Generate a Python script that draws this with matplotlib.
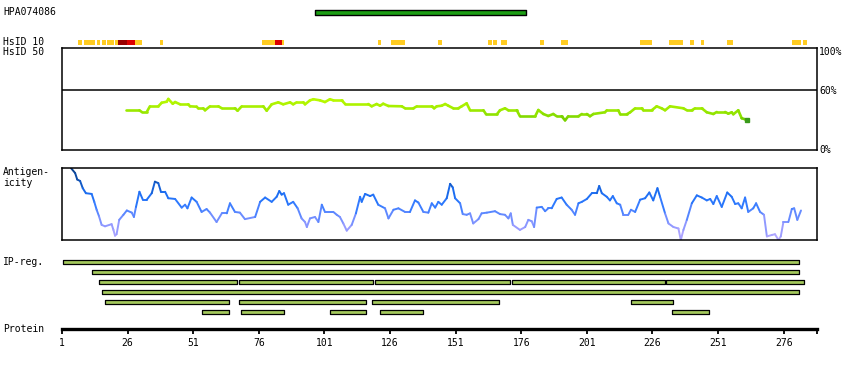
import numpy as np
import matplotlib
matplotlib.use("Agg")
import matplotlib.pyplot as plt
from matplotlib.collections import LineCollection
from matplotlib.colors import LinearSegmentedColormap, Normalize

# ---- data (residue positions) ----
protein_length = 288.7
tick_residues = list(range(1, 277, 25))

antibody_name = "HPA074086"
antibody_start, antibody_end = 97.5, 177.7

# HsID 10 blocks: start, end, level (0 = low, 1 = mid, 2 = high)
hsid10_start = [7.1, 9.4, 14.3, 16.2, 18.1, 21.2, 22.3, 25.8, 28.8, 38.3, 77.2, 82.2, 84.8,
                121.4, 126.4, 144.3, 163.3, 165.3, 168.3, 183.2, 191.2, 221.3, 232.3, 240.3,
                244.5, 254.4, 279.2, 283.4]
hsid10_end = [8.5, 13.6, 15.4, 17.7, 20.9, 22.3, 25.8, 28.8, 31.5, 39.5, 82.2, 84.8, 85.5,
              122.6, 131.7, 145.8, 164.9, 166.8, 170.6, 184.7, 193.8, 225.8, 237.7, 241.9,
              245.7, 256.7, 282.6, 284.9]
hsid10_level = [0, 0, 0, 0, 0, 0, 2, 1, 0, 0, 0, 1, 0,
                0, 0, 0, 0, 0, 0, 0, 0, 0, 0, 0,
                0, 0, 0, 0]

# HsID 50 identity (%) along the sequence
hsid50_res = [25.4, 30.5, 31.4, 33.3, 34.5, 37.7, 39.0, 40.9, 41.5, 43.2, 44.1, 46.0, 49.1, 49.8,
              52.3, 52.9, 54.8, 55.5, 57.4, 60.6, 61.9, 66.9, 67.9, 69.5, 77.7, 79.0, 80.9, 83.4,
              85.3, 87.9, 89.1, 90.4, 93.0, 93.6, 95.5, 96.8, 99.3, 101.2, 103.1, 104.4, 107.6,
              108.9, 117.7, 119.0, 120.9, 122.2, 123.4, 125.4, 130.5, 131.7, 134.9, 136.2, 141.9,
              142.8, 143.8, 145.7, 147.0, 148.2, 150.1, 152.0, 153.3, 155.2, 156.5, 161.6, 162.6,
              166.7, 167.9, 169.8, 171.1, 174.3, 175.5, 181.3, 182.5, 184.4, 186.3, 188.2, 189.5,
              191.4, 192.7, 193.9, 197.8, 199.1, 201.0, 202.2, 203.5, 207.9, 208.6, 213.0, 213.7,
              216.2, 217.5, 219.4, 221.9, 222.5, 225.7, 227.6, 229.5, 230.8, 232.7, 237.8, 239.1,
              241.0, 242.2, 244.8, 246.7, 249.2, 250.5, 253.7, 254.9, 256.2, 256.8, 258.7, 260.0,
              261.3, 262.2]
hsid50_pct = [39.9, 39.9, 38.2, 38.2, 43.9, 43.9, 47.5, 48.5, 51.3, 46.5, 48.2, 45.9, 45.9, 43.9,
              43.5, 41.9, 41.9, 39.9, 43.9, 43.9, 41.9, 41.9, 39.5, 43.9, 43.9, 39.5, 45.9, 47.9,
              45.9, 47.9, 45.9, 47.9, 47.9, 45.9, 49.9, 51.0, 49.9, 48.2, 51.0, 49.9, 49.9,
              46.2, 46.2, 43.9, 46.2, 44.5, 46.5, 44.2, 43.9, 41.9, 41.9, 43.9, 43.9,
              41.9, 43.9, 44.5, 46.2, 44.5, 41.9, 41.9, 43.9, 46.9, 39.9, 39.9, 35.9,
              35.9, 39.9, 41.9, 39.9, 39.9, 33.9, 33.9, 40.2, 36.2, 34.2, 36.2, 33.9,
              33.9, 29.8, 33.9, 33.9, 36.2, 36.2, 33.9, 36.2, 37.9, 39.9, 39.9, 35.9,
              35.9, 37.9, 41.9, 41.9, 39.9, 39.9, 43.9, 41.9, 39.9, 43.9, 41.9, 39.9,
              39.9, 41.9, 41.9, 37.9, 36.2, 38.2, 38.2, 36.5, 37.9, 35.9, 39.9, 31.9,
              30.9, 29.8]

# Antigenicity score (relative, 0 = bottom of panel, 1 = top)
antigen_res = [4.4, 6.0, 6.8, 7.9, 8.9, 10.1, 12.3, 13.3, 14.2, 15.1, 16.1, 17.4, 19.9, 20.6, 21.2,
               21.8, 22.8, 24.4, 25.7, 27.6, 28.4, 29.2, 30.5, 31.8, 33.3, 35.2, 36.4, 37.7, 38.7,
               40.3, 41.5, 44.1, 46.6, 47.9, 48.8, 50.4, 52.3, 54.2, 56.1, 57.4, 59.9, 61.9, 63.8,
               65.0, 66.9, 68.8, 70.7, 74.6, 76.5, 78.4, 80.9, 82.8, 83.8, 84.7, 85.6, 87.2, 89.1,
               90.8, 92.3, 93.6, 94.3, 95.5, 97.4, 98.7, 100.0, 101.2, 104.4, 105.7, 106.9, 108.2,
               109.5, 111.4, 113.0, 114.6, 115.2, 116.5, 118.4, 119.6, 121.5, 124.1, 125.4, 127.3,
               129.2, 131.7, 133.6, 135.5, 136.8, 138.7, 140.6, 141.9, 143.2, 144.4, 145.7, 147.6,
               148.9, 149.9, 150.8, 152.7, 153.7, 155.2, 156.5, 157.7, 159.7, 160.9, 162.9, 166.0,
               167.9, 169.8, 171.1, 172.0, 172.8, 175.5, 177.5, 178.7, 180.0, 180.9, 181.9, 183.8,
               185.1, 186.3, 187.6, 189.5, 191.4, 193.3, 195.2, 196.5, 197.8, 199.1, 201.0, 202.9,
               204.8, 205.7, 206.7, 208.6, 209.8, 210.9, 212.4, 213.7, 214.9, 216.8, 217.8, 219.4,
               221.3, 223.2, 224.8, 226.3, 227.9, 228.9, 230.8, 232.1, 234.0, 235.9, 236.8, 237.8,
               239.1, 241.0, 242.9, 244.8, 246.7, 248.0, 249.2, 250.5, 252.4, 254.5, 256.2, 257.5,
               258.7, 260.0, 261.3, 262.5, 264.4, 265.5, 267.0, 268.5, 269.6, 271.5, 272.7, 274.0,
               274.9, 275.9, 277.8, 279.1, 280.0, 281.2, 282.6]
antigen_val = [1.0, 0.93, 0.84, 0.82, 0.72, 0.65, 0.64, 0.53, 0.42, 0.33, 0.21, 0.19, 0.22, 0.14, 0.06,
               0.08, 0.28, 0.35, 0.41, 0.38, 0.32, 0.46, 0.67, 0.56, 0.56, 0.65, 0.81, 0.79, 0.67,
               0.67, 0.58, 0.57, 0.45, 0.49, 0.44, 0.59, 0.53, 0.39, 0.43, 0.38, 0.25, 0.37, 0.37,
               0.51, 0.39, 0.38, 0.29, 0.32, 0.53, 0.59, 0.53, 0.60, 0.68, 0.63, 0.65, 0.49, 0.53,
               0.44, 0.30, 0.25, 0.18, 0.30, 0.32, 0.25, 0.49, 0.39, 0.39, 0.35, 0.32, 0.23,
               0.13, 0.21, 0.37, 0.60, 0.53, 0.64, 0.61, 0.63, 0.49, 0.44, 0.30, 0.42,
               0.44, 0.39, 0.39, 0.55, 0.52, 0.39, 0.38, 0.51, 0.45, 0.53, 0.49, 0.58,
               0.78, 0.73, 0.58, 0.51, 0.36, 0.35, 0.37, 0.23, 0.29, 0.37, 0.38, 0.40,
               0.36, 0.35, 0.30, 0.37, 0.21, 0.14, 0.18, 0.28, 0.26, 0.18, 0.45, 0.46,
               0.40, 0.44, 0.44, 0.57, 0.59, 0.49, 0.42, 0.35, 0.51, 0.53, 0.57, 0.65,
               0.65, 0.75, 0.65, 0.60, 0.55, 0.61, 0.51, 0.49, 0.35, 0.35, 0.42, 0.39,
               0.56, 0.58, 0.66, 0.55, 0.72, 0.60, 0.37, 0.23, 0.18, 0.16, 0.0, 0.14,
               0.28, 0.51, 0.62, 0.59, 0.55, 0.57, 0.50, 0.61, 0.46, 0.66, 0.60, 0.50,
               0.51, 0.44, 0.59, 0.39, 0.44, 0.51, 0.39, 0.35, 0.05, 0.07, 0.08, 0.0,
               0.05, 0.25, 0.25, 0.43, 0.44, 0.28, 0.41]

# IP-reg fragments, one list of (start, end) per row
ip_rows = [
    [(1.5, 281.8)],
    [(12.5, 281.8)],
    [(15.2, 67.6), (68.6, 119.4), (120.4, 171.6), (172.6, 230.7), (231.3, 283.7)],
    [(16.4, 281.8)],
    [(17.5, 64.5), (68.6, 116.7), (119.3, 167.4), (217.7, 233.7)],
    [(54.5, 64.5), (69.3, 85.5), (103.3, 116.7), (122.3, 138.5), (233.6, 247.5)],
]

# ---- layout helpers (figure in pixels) ----
W, H = 850, 370
fig = plt.figure(figsize=(W / 100, H / 100), dpi=100)
FONT = dict(family="DejaVu Sans Mono", fontsize=7)


def px_axes(x0, y0, x1, y1):
    return fig.add_axes([x0 / W, 1 - y1 / H, (x1 - x0) / W, (y1 - y0) / H])


def px_text(x, y, s, **kw):
    fig.text(x / W, 1 - y / H, s, va="center", **FONT, **kw)


def colored_line(ax, x, y, cmap, norm, lw):
    pts = np.column_stack([x, y]).reshape(-1, 1, 2)
    segs = np.concatenate([pts[:-1], pts[1:]], axis=1)
    lc = LineCollection(segs, cmap=cmap, norm=norm, linewidths=lw, capstyle="round")
    lc.set_array((np.asarray(y)[:-1] + np.asarray(y)[1:]) / 2)
    ax.add_collection(lc)


XLIM = (1, protein_length)

# ---- top track: antibody + HsID 10 ----
track = px_axes(62, 0, 817, 60)
track.set_xlim(*XLIM)
track.set_ylim(60, 0)
track.axis("off")
track.broken_barh([(antibody_start, antibody_end - antibody_start)], (9.8, 4.8),
                  facecolors="#1c9e14", edgecolors="black", linewidth=1)
level_colors = ["#ffcc22", "#dd0000", "#990000"]
track.broken_barh([(s, e - s) for s, e in zip(hsid10_start, hsid10_end)], (40, 5),
                  facecolors=[level_colors[l] for l in hsid10_level], linewidth=0)

# ---- HsID 50 panel ----
ax50 = px_axes(62, 48, 817, 150)
ax50.set_xlim(*XLIM)
ax50.set_ylim(0, 102.5)
ax50.set_xticks([])
ax50.set_yticks([])
for sp in ax50.spines.values():
    sp.set_linewidth(1.1)
ax50.axhline(60, color="black", lw=1.1)
green_cmap = LinearSegmentedColormap.from_list("hs50", ["#66c400", "#8ee200", "#a8f000", "#bcfc00"])
colored_line(ax50, hsid50_res, hsid50_pct, green_cmap, Normalize(28, 52), 1.9)
ax50.plot(hsid50_res[-1], hsid50_pct[-1], "s", color="#3a9a1a", ms=3)

# ---- Antigenicity panel ----
axag = px_axes(62, 168, 817, 240)
axag.set_xlim(*XLIM)
axag.set_ylim(0, 1)
axag.set_xticks([])
axag.set_yticks([])
for sp in axag.spines.values():
    sp.set_linewidth(1.1)
blue_cmap = LinearSegmentedColormap.from_list(
    "ag", ["#b8aaff", "#9a9cff", "#6a8cff", "#2f7aff", "#1a6cf0", "#0f4fae", "#0a3f8a"])
colored_line(axag, antigen_res, antigen_val, blue_cmap, Normalize(0, 1), 1.4)

# ---- IP-reg fragments ----
ipax = px_axes(62, 255, 817, 320)
ipax.set_xlim(*XLIM)
ipax.set_ylim(320, 255)
ipax.axis("off")
for i, row in enumerate(ip_rows):
    yc = 262.3 + 10 * i
    ipax.broken_barh([(s, e - s) for s, e in row], (yc - 2, 4),
                     facecolors="#a4c95c", edgecolors="black", linewidth=0.9)

# ---- Protein axis ----
pax = px_axes(62, 320, 817, 329.3)
pax.set_xlim(*XLIM)
pax.set_facecolor("none")
for side in ["top", "left", "right"]:
    pax.spines[side].set_visible(False)
pax.spines["bottom"].set_linewidth(2.4)
pax.set_yticks([])
pax.set_xticks(tick_residues)
pax.set_xticklabels([str(t) for t in tick_residues], **FONT)
pax.set_xticks([protein_length], minor=True)
pax.tick_params(axis="x", which="both", length=3.5, width=1.3, pad=3, direction="out")

# ---- labels ----
px_text(3, 12, antibody_name)
px_text(3, 42, "HsID 10")
px_text(3, 52, "HsID 50")
px_text(3, 172, "Antigen-")
px_text(3, 183, "icity")
px_text(3, 262, "IP-reg.")
px_text(3, 329, "Protein")
px_text(819, 52, "100%")
px_text(819, 90.5, "60%")
px_text(819, 150, "0%")

fig.savefig("out.png", dpi=100)
